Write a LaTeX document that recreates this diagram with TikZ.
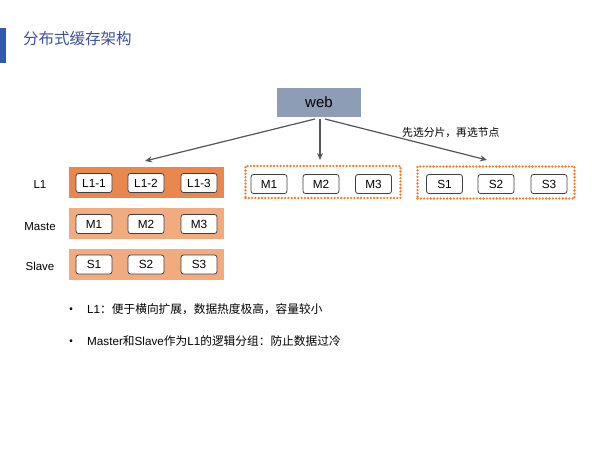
\documentclass[tikz,border=0pt]{standalone}
\usepackage{fontspec}
\setmainfont{Liberation Sans}
\newfontfamily\cjk{Noto Sans CJK SC}
\usetikzlibrary{arrows.meta}
\definecolor{titleblue}{HTML}{3B5198}
\definecolor{barblue}{HTML}{2F5AAE}
\definecolor{webfill}{HTML}{8C9DB5}
\definecolor{darkorange}{HTML}{E9874F}
\definecolor{lightorange}{HTML}{F2AB7E}
\definecolor{dotorange}{HTML}{EE7E30}
\definecolor{arrowgray}{HTML}{555555}
\tikzset{
  cell/.style={draw=black!75, line width=0.8pt, fill=white, rounded corners=2.5pt,
    minimum width=36pt, minimum height=19pt, inner sep=0pt, font=\fontsize{11.8}{13}\selectfont},
  rowbox/.style={minimum width=155pt, minimum height=31pt, inner sep=0pt, draw=none},
  dotbox/.style={draw=dotorange, line width=2.6pt, line cap=round, dash pattern=on 0pt off 3.3pt,
    minimum height=32pt, inner sep=0pt},
  rowlabel/.style={font=\fontsize{11.5}{13}\selectfont, anchor=center},
  conn/.style={draw=arrowgray, line width=1.2pt, -{Stealth[length=7pt,width=6pt]}},
  bullettext/.style={anchor=west, font=\fontsize{11.7}{14}\selectfont, inner sep=0pt}
}
\begin{document}
\begin{tikzpicture}[x=1pt,y=-1pt]
\useasboundingbox (0,0) rectangle (604,453);
\fill[white] (0,0) rectangle (604,453);
% title
\fill[barblue] (0,28) rectangle (6,63);
\node[anchor=west, inner sep=0pt, text=titleblue, font=\cjk\fontsize{15.5}{17}\selectfont] (title) at (23,39) {分布式缓存架构};
% web
\node[fill=webfill, minimum width=84pt, minimum height=29pt, inner sep=0pt, font=\fontsize{15}{17}\selectfont] (web) at (319,102.5) {web};
% rows
\node[rowbox, fill=darkorange] (l1row) at (146,182.5) {};
\node[rowbox, fill=lightorange] (mrow) at (146,223.5) {};
\node[rowbox, fill=lightorange] (srow) at (146,264) {};
\node[cell] (l11) at (94,183) {L1-1};
\node[cell] (l12) at (146,183) {L1-2};
\node[cell] (l13) at (199,183) {L1-3};
\node[cell] (m1a) at (94,224) {M1};
\node[cell] (m2a) at (146,224) {M2};
\node[cell] (m3a) at (199,224) {M3};
\node[cell] (s1a) at (94,264.5) {S1};
\node[cell] (s2a) at (146,264.5) {S2};
\node[cell] (s3a) at (199,264.5) {S3};
\node[rowlabel] (lab1) at (40,185) {L1};
\node[rowlabel] (lab2) at (40,227) {Maste};
\node[rowlabel] (lab3) at (40,266) {Slave};
% middle dotted
\node[dotbox, minimum width=155pt] (mbox) at (323,182) {};
\node[cell] (m1b) at (269,184) {M1};
\node[cell] (m2b) at (321,184) {M2};
\node[cell] (m3b) at (373.5,184) {M3};
% right dotted
\node[dotbox, minimum width=157pt] (sbox) at (496,182.5) {};
\node[cell] (s1b) at (444.5,184) {S1};
\node[cell] (s2b) at (496,184) {S2};
\node[cell] (s3b) at (549,184) {S3};
% arrows
\coordinate (wl) at (315,119);
\coordinate (wm) at (320,119);
\coordinate (wr) at (325,119);
\coordinate (tl) at (145,161);
\coordinate (tm) at (320,160);
\coordinate (tr) at (487,160);
\draw[conn] (wl) -- (tl);
\draw[conn] (wm) -- (tm);
\draw[conn] (wr) -- (tr);
\node[anchor=west, inner sep=0pt, font=\cjk\fontsize{10.8}{12}\selectfont] (note) at (402,133) {先选分片，再选节点};
% bullets
\node[anchor=center, inner sep=0pt, font=\fontsize{10}{12}\selectfont] (b1) at (71,310) {•};
\node[bullettext] (t1) at (87,309) {L1{\cjk ：便于横向扩展，数据热度极高，容量较小}};
\node[anchor=center, inner sep=0pt, font=\fontsize{10}{12}\selectfont] (b2) at (71,342) {•};
\node[bullettext] (t2) at (87,341.5) {Master{\cjk 和}Slave{\cjk 作为}L1{\cjk 的逻辑分组：防止数据过冷}};
\end{tikzpicture}
\end{document}
